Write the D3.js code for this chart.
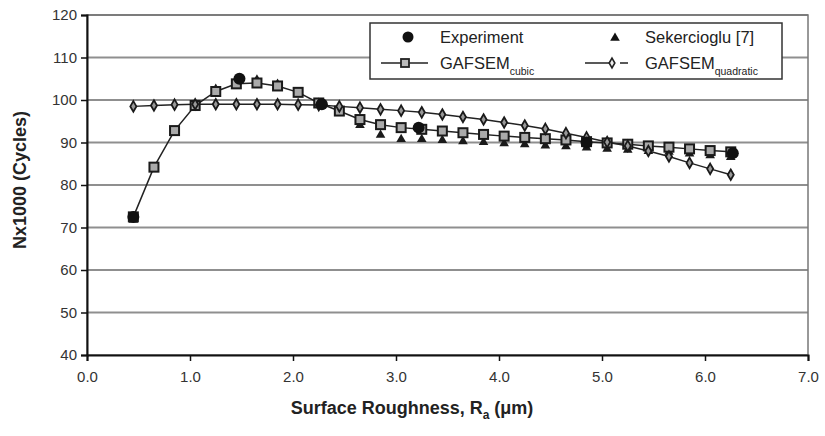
<!DOCTYPE html>
<html>
<head>
<meta charset="utf-8">
<script src="https://cdn.jsdelivr.net/npm/d3@7"></script>
<style>
  body { margin: 0; background: #fff; }
  svg { font-family: "Liberation Sans", Arial, sans-serif; }
  .grid line { stroke: #8f8f8f; stroke-width: 2; }
  .tick text { fill: #333; font-size: 15px; }
</style>
</head>
<body>
<svg id="chart" width="825" height="436"></svg>
<script>
// roughness values (um) shared by the model curves
const ra = [0.45, 0.65, 0.85, 1.05, 1.25, 1.45, 1.65, 1.85, 2.05, 2.25,
            2.45, 2.65, 2.85, 3.05, 3.25, 3.45, 3.65, 3.85, 4.05, 4.25,
            4.45, 4.65, 4.85, 5.05, 5.25, 5.45, 5.65, 5.85, 6.05, 6.25];
const cubic = [72.5, 84.2, 92.8, 98.7, 102.0, 103.8, 104.0, 103.3, 101.8, 99.3,
               97.4, 95.4, 94.2, 93.5, 93.1, 92.7, 92.3, 91.9, 91.5, 91.2,
               90.9, 90.6, 90.2, 89.9, 89.6, 89.2, 88.9, 88.5, 88.1, 87.8];
const quadratic = [98.5, 98.7, 98.9, 99.0, 99.0, 99.0, 99.0, 99.0, 98.9, 98.8,
                   98.5, 98.2, 97.8, 97.5, 97.1, 96.6, 96.0, 95.4, 94.7, 94.0,
                   93.2, 92.2, 91.2, 90.1, 89.2, 88.0, 86.7, 85.2, 83.8, 82.4];
const sekercioglu = [72.0, 84.0, 92.5, 98.5, 102.8, 104.8, 105.0, 104.0, 102.0, 99.5,
                     97.8, 94.3, 92.0, 91.0, 91.0, 90.8, 90.5, 90.3, 90.0, 89.8,
                     89.5, 89.3, 89.0, 88.7, 88.5, 88.2, 88.0, 87.6, 87.2, 86.8];
const expRa = [0.45, 1.48, 2.28, 3.22, 4.85, 6.27];
const expN = [72.5, 105.0, 99.0, 93.5, 90.0, 87.5];

const xTicks = [0, 1, 2, 3, 4, 5, 6, 7];
const yTicks = [40, 50, 60, 70, 80, 90, 100, 110, 120];

const svg = d3.select("#chart");
const plotL = 87, plotR = 808, plotT = 15, plotB = 355;

const x = d3.scaleLinear().domain([0, 7]).range([plotL, plotR]);
const y = d3.scaleLinear().domain([40, 120]).range([plotB, plotT]);

// horizontal grid
svg.append("g").attr("class", "grid")
  .selectAll("line").data(yTicks.slice(1)).join("line")
  .attr("x1", plotL).attr("x2", plotR)
  .attr("y1", d => y(d)).attr("y2", d => y(d));

// frame (right + top)
svg.append("rect")
  .attr("x", plotL).attr("y", plotT)
  .attr("width", plotR - plotL).attr("height", plotB - plotT)
  .attr("fill", "none").attr("stroke", "#777").attr("stroke-width", 1.5);

const yAxis = svg.append("g")
  .attr("transform", `translate(${plotL},0)`)
  .call(d3.axisLeft(y).tickValues(yTicks).tickSize(6).tickPadding(4).tickFormat(d3.format("d")));
const xAxis = svg.append("g")
  .attr("transform", `translate(0,${plotB})`)
  .call(d3.axisBottom(x).tickValues(xTicks).tickSize(6).tickPadding(10).tickFormat(d3.format(".1f")));
[yAxis, xAxis].forEach(a => {
  a.select(".domain").attr("stroke", "#111").attr("stroke-width", 2);
  a.selectAll(".tick line").attr("stroke", "#111").attr("stroke-width", 1.5);
});

// model lines
const line = d3.line().x(d => x(d[0])).y(d => y(d[1]));
const cubicPts = ra.map((r, i) => [r, cubic[i]]);
const quadPts = ra.map((r, i) => [r, quadratic[i]]);
const sekPts = ra.map((r, i) => [r, sekercioglu[i]]);
const expPts = expRa.map((r, i) => [r, expN[i]]);

svg.append("path").datum(quadPts).attr("d", line)
  .attr("fill", "none").attr("stroke", "#222").attr("stroke-width", 1.5);
svg.append("path").datum(cubicPts).attr("d", line)
  .attr("fill", "none").attr("stroke", "#222").attr("stroke-width", 1.5);

const triangle = d3.symbol().type(d3.symbolTriangle).size(40);
const diamond = d3.symbol().type(d3.symbolDiamond).size(32);

// Sekercioglu triangles
svg.append("g").selectAll("path").data(sekPts).join("path")
  .attr("d", triangle)
  .attr("transform", d => `translate(${x(d[0])},${y(d[1]) + 1})`)
  .attr("fill", "#1a1a1a");

// GAFSEM cubic squares
svg.append("g").selectAll("rect").data(cubicPts).join("rect")
  .attr("x", d => x(d[0]) - 4.5).attr("y", d => y(d[1]) - 4.5)
  .attr("width", 9).attr("height", 9)
  .attr("fill", "#aaa").attr("stroke", "#1a1a1a").attr("stroke-width", 2);

// GAFSEM quadratic diamonds
svg.append("g").selectAll("path").data(quadPts).join("path")
  .attr("d", diamond)
  .attr("transform", d => `translate(${x(d[0])},${y(d[1])})`)
  .attr("fill", "#999").attr("stroke", "#1a1a1a").attr("stroke-width", 1.8);

// experiment dots
svg.append("g").selectAll("circle").data(expPts).join("circle")
  .attr("cx", d => x(d[0])).attr("cy", d => y(d[1]))
  .attr("r", 6).attr("fill", "#111");

// legend
const lg = svg.append("g");
lg.append("rect").attr("x", 370).attr("y", 23).attr("width", 412).attr("height", 56)
  .attr("fill", "#fff").attr("stroke", "#333").attr("stroke-width", 1.5);
lg.append("circle").attr("cx", 408).attr("cy", 37).attr("r", 5.5).attr("fill", "#111");
lg.append("path").attr("d", triangle).attr("transform", "translate(615,38)").attr("fill", "#111");
lg.append("line").attr("x1", 381).attr("x2", 428).attr("y1", 63).attr("y2", 63)
  .attr("stroke", "#222").attr("stroke-width", 1.5);
lg.append("rect").attr("x", 401).attr("y", 59).attr("width", 8).attr("height", 8)
  .attr("fill", "#bbb").attr("stroke", "#222").attr("stroke-width", 1.8);
lg.append("line").attr("x1", 585).attr("x2", 610).attr("y1", 63).attr("y2", 63)
  .attr("stroke", "#222").attr("stroke-width", 1.5);
lg.append("line").attr("x1", 620).attr("x2", 628).attr("y1", 63).attr("y2", 63)
  .attr("stroke", "#222").attr("stroke-width", 1.5);
lg.append("path").attr("d", d3.symbol().type(d3.symbolDiamond).size(28))
  .attr("transform", "translate(612,63)")
  .attr("fill", "#eee").attr("stroke", "#222").attr("stroke-width", 1.6);

const lgText = [
  { x: 440, y: 43, main: "Experiment", sub: "" },
  { x: 645, y: 43, main: "Sekercioglu [7]", sub: "" },
  { x: 440, y: 69, main: "GAFSEM", sub: "cubic" },
  { x: 645, y: 69, main: "GAFSEM", sub: "quadratic" }
];
lgText.forEach(t => {
  const tx = lg.append("text").attr("x", t.x).attr("y", t.y)
    .attr("font-size", 16.5).attr("fill", "#222");
  tx.append("tspan").text(t.main);
  if (t.sub) tx.append("tspan").attr("dy", 6).attr("font-size", 10.5).text(t.sub);
});

// axis titles
svg.append("text")
  .attr("transform", "translate(26,180) rotate(-90)")
  .attr("text-anchor", "middle").attr("font-size", 18).attr("font-weight", "bold")
  .attr("fill", "#222").text("Nx1000 (Cycles)");
const xt = svg.append("text").attr("x", 412).attr("y", 414)
  .attr("text-anchor", "middle").attr("font-size", 18).attr("font-weight", "bold").attr("fill", "#222");
xt.append("tspan").text("Surface Roughness, R");
xt.append("tspan").attr("dy", 5).attr("font-size", 12).text("a");
xt.append("tspan").attr("dy", -5).text(" (\u03bcm)");
</script>
</body>
</html>
